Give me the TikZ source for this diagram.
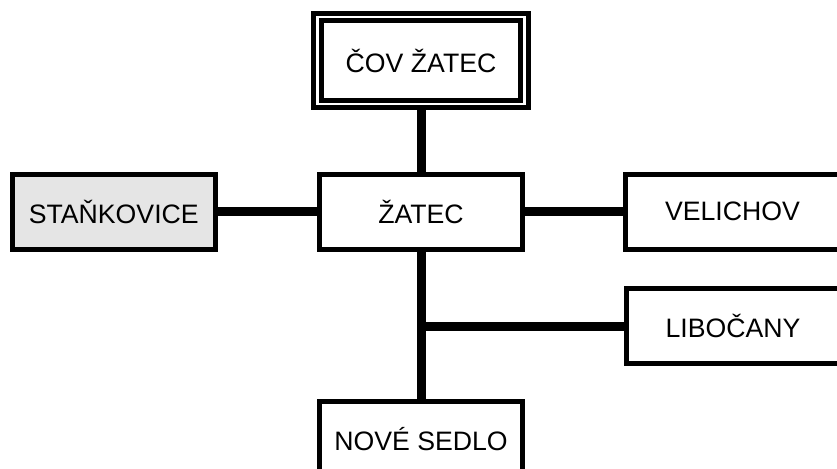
\documentclass[tikz,border=0pt]{standalone}
\usepackage{fontspec}
\setmainfont{Liberation Sans}
\usepackage{tikz}
\usetikzlibrary{positioning,calc}
\tikzset{
  obec/.style={draw,line width=3.75pt,fill=white,inner sep=0pt,align=center,
               minimum width=152.6pt,minimum height=56.25pt},
  obecsira/.style={obec,minimum width=160.5pt},
  sedy/.style={obec,fill=black!10},
  cistirna/.style={draw,line width=3.75pt,double=white,double distance=1.9pt,inner sep=0pt,
                   minimum width=155.4pt,minimum height=65.4pt},
  spoj/.style={line width=6.75pt},
}

\begin{document}
\begin{tikzpicture}[x=0.75pt,y=-0.75pt,font=\fontsize{20}{24}\selectfont]
  \clip (0,0) rectangle (837,468);
  % cistirna a obce
  \node[cistirna] (cov) at (421,60.5) {ČOV ŽATEC};
  \node[obec] (zatec) at (421,211.5) {ŽATEC};
  \node[sedy] (stankovice) at (113.75,211.5) {STAŇKOVICE};
  \node[obecsira] (velichov) at (732.5,211.5) {VELICHOV};
  \node[obecsira] (libocany) at (733,326) {LIBOČANY};
  \node[obec] (sedlo) at (421,439) {NOVÉ SEDLO};
  % potrubi
  \draw[spoj] (cov) -- (zatec);
  \draw[spoj] (stankovice) -- (zatec);
  \draw[spoj] (zatec) -- (velichov);
  \draw[spoj] (zatec) -- (sedlo);
  \coordinate (odbocka) at (zatec.south |- libocany.west);
  \draw[spoj] (odbocka) -- (libocany.west);
\end{tikzpicture}
\end{document}
